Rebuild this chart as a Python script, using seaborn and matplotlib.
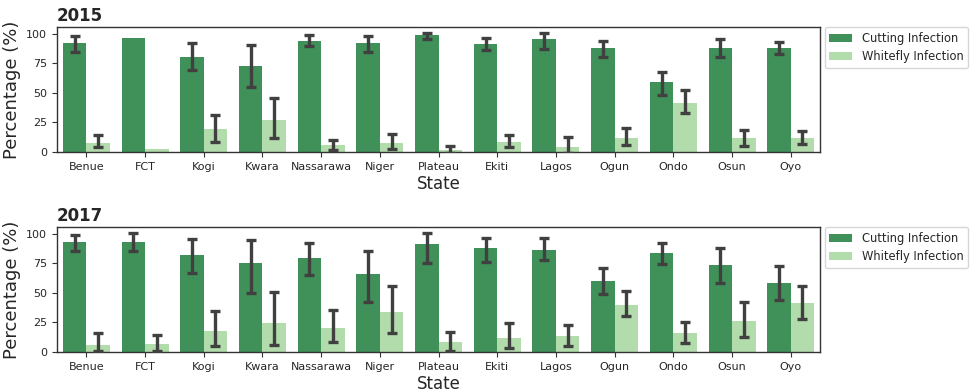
import numpy as np
import pandas as pd
import matplotlib
matplotlib.use("Agg")
import matplotlib.pyplot as plt
import seaborn as sns

# Survey states (x-axis categories)
states = ["Benue", "FCT", "Kogi", "Kwara", "Nassarawa", "Niger", "Plateau",
          "Ekiti", "Lagos", "Ogun", "Ondo", "Osun", "Oyo"]
infection_types = ["Cutting Infection", "Whitefly Infection"]

# 2015 survey: mean incidence (%) and error-bar limits
cut_2015 = [92.4, 96.6, 80.4, 72.5, 94.1, 92.4, 98.9, 91.3, 95.8, 88.0, 58.8, 88.0, 88.0]
cut_2015_lo = [84.6, np.nan, 69.2, 54.6, 89.9, 84.6, 95.2, 86.0, 87.4, 80.4, 48.5, 80.7, 82.6]
cut_2015_hi = [97.8, np.nan, 92.2, 90.5, 99.2, 98.3, 100.8, 96.4, 100.8, 93.8, 67.5, 95.2, 93.0]
wf_2015 = [7.6, 2.8, 19.3, 27.2, 5.9, 7.6, 1.4, 8.7, 4.2, 12.3, 41.5, 12.3, 12.3]
wf_2015_lo = [3.9, np.nan, 8.7, 12.3, 1.4, 2.2, -1.0, 3.9, -0.5, 6.4, 32.8, 5.0, 7.0]
wf_2015_hi = [14.8, np.nan, 31.1, 45.9, 10.6, 15.1, 4.8, 14.3, 12.9, 20.4, 52.1, 19.0, 17.6]

# 2017 survey
cut_2017 = [93.3, 92.7, 81.8, 75.4, 79.8, 65.5, 91.6, 87.7, 86.3, 59.7, 84.0, 73.4, 58.5]
cut_2017_lo = [85.2, 85.2, 66.4, 49.9, 65.0, 42.0, 74.8, 75.9, 77.9, 49.3, 74.5, 58.5, 44.0]
cut_2017_hi = [98.9, 100.6, 95.2, 94.7, 91.9, 85.4, 100.6, 96.4, 96.4, 70.6, 92.4, 88.2, 72.5]
wf_2017 = [6.2, 6.7, 17.9, 24.6, 20.2, 34.2, 8.4, 12.0, 13.2, 40.1, 15.7, 26.3, 41.2]
wf_2017_lo = [1.1, 0.8, 5.0, 5.6, 8.4, 16.0, 0.8, 3.6, 5.3, 30.3, 7.6, 12.3, 27.7]
wf_2017_hi = [15.7, 14.3, 34.7, 50.7, 35.6, 55.5, 16.8, 24.1, 22.7, 51.5, 25.5, 42.0, 55.7]

years = {
    "2015": (cut_2015, cut_2015_lo, cut_2015_hi, wf_2015, wf_2015_lo, wf_2015_hi),
    "2017": (cut_2017, cut_2017_lo, cut_2017_hi, wf_2017, wf_2017_lo, wf_2017_hi),
}

palette = ["#3f9159", "#b3dcac"]

sns.set_style("ticks")
plt.rcParams["font.family"] = ["DejaVu Sans"]

fig = plt.figure(figsize=(9.74, 3.92), dpi=100)
axes = [fig.add_axes([0.0585, 0.612, 0.7835, 0.319]),
        fig.add_axes([0.0585, 0.102, 0.7835, 0.319])]

for ax, (year, (cut, cut_lo, cut_hi, wf, wf_lo, wf_hi)) in zip(axes, years.items()):
    df = pd.DataFrame({
        "State": states * 2,
        "Percentage": list(cut) + list(wf),
        "Infection": [infection_types[0]] * len(states) + [infection_types[1]] * len(states),
    })
    sns.barplot(data=df, x="State", y="Percentage", hue="Infection",
                hue_order=infection_types, order=states, palette=palette,
                saturation=1, errorbar=None, linewidth=0, ax=ax)

    # error bars centred on each drawn bar
    limits = [(cut, cut_lo, cut_hi), (wf, wf_lo, wf_hi)]
    for container, (mean, lo, hi) in zip(ax.containers, limits):
        xs = [b.get_x() + b.get_width() / 2 for b in container]
        mean = np.asarray(mean)
        lower = mean - np.asarray(lo)
        upper = np.asarray(hi) - mean
        ax.errorbar(xs, mean, yerr=[lower, upper], fmt="none",
                    ecolor="#404040", elinewidth=2.4, capsize=3.6,
                    capthick=2.4, zorder=3, clip_on=True)

    ax.set_ylim(0, 105.6)
    ax.set_xlim(-0.5, len(states) - 0.5)
    ax.set_yticks([0, 25, 50, 75, 100])
    ax.tick_params(axis="both", labelsize=8, length=3.5, color="#333333")
    ax.set_xlabel("State", fontsize=12, labelpad=2)
    ax.set_ylabel("Percentage (%)", fontsize=13, labelpad=4)
    ax.set_title(year, loc="left", fontsize=12, fontweight="bold", pad=4)
    for s in ax.spines.values():
        s.set_visible(True)
        s.set_color("#333333")
        s.set_linewidth(1.0)
    sns.move_legend(ax, "upper left", bbox_to_anchor=(1.006, 1.0),
                    borderaxespad=0, title=None, frameon=True, fontsize=8.3)

fig.savefig("out.png", dpi=100)
